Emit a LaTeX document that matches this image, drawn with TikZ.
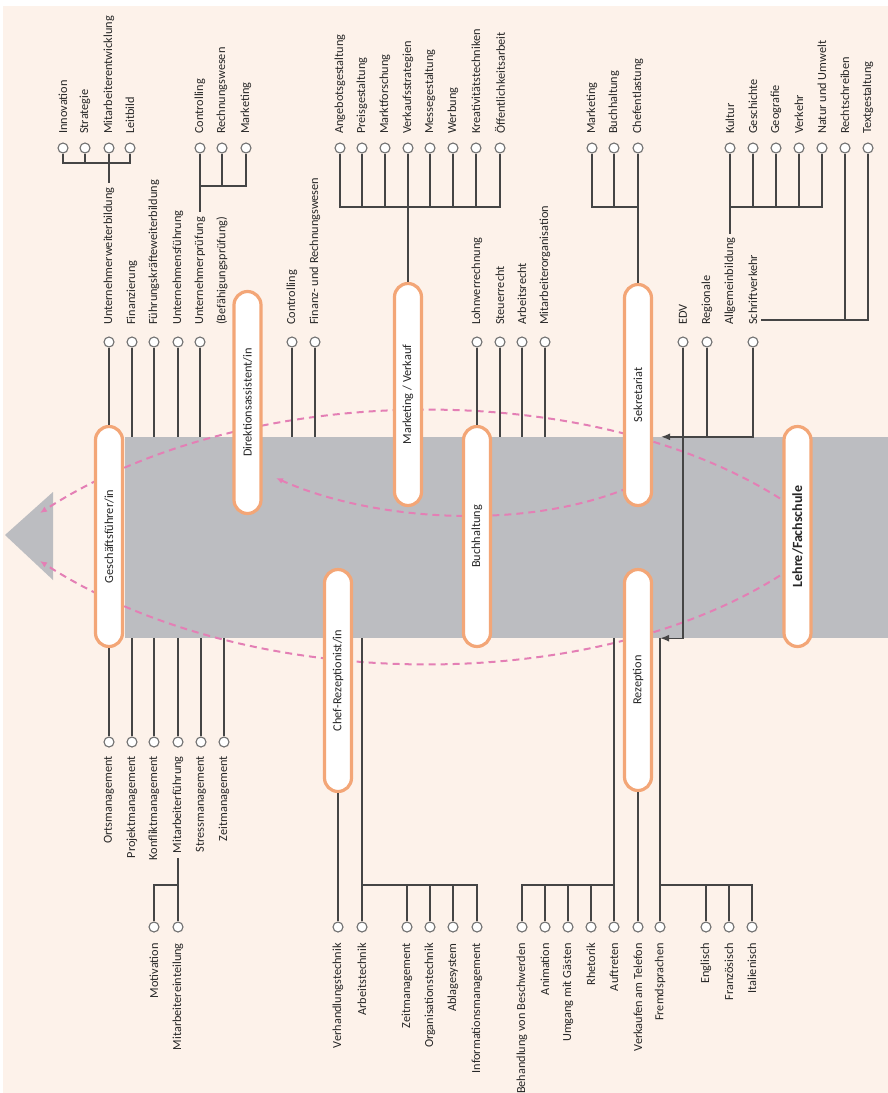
\documentclass[tikz,border=0pt]{standalone}
\usepackage{fontspec}
\setsansfont{Carlito}
\usepackage{xcolor}
\usetikzlibrary{positioning,arrows.meta,backgrounds,calc}

\definecolor{cream}{HTML}{FDF2EA}
\definecolor{bandgray}{HTML}{BCBDC1}
\definecolor{pillorange}{HTML}{F3A677}
\definecolor{dashpink}{HTML}{E47FB5}
\definecolor{stemgray}{HTML}{454545}
\definecolor{dotgray}{HTML}{707070}
\definecolor{txt}{HTML}{262626}

\newcommand{\lblfont}{\sffamily\fontsize{12.3}{14}\selectfont}

\begin{document}
\begin{tikzpicture}[x=1pt, y=-1pt,
  pill/.style={rectangle, rounded corners=13.5pt, draw=pillorange, line width=3.2pt,
               fill=white, rotate=90, minimum height=27pt, inner sep=0pt,
               font=\lblfont, text=txt},
  band/.style={rectangle, fill=bandgray, inner sep=0pt,
               minimum width=763pt, minimum height=201pt},
  up/.style={rotate=90, anchor=west, inner sep=0pt, font=\lblfont, text=txt},
  dn/.style={rotate=90, anchor=east, inner sep=0pt, font=\lblfont, text=txt},
  dot/.style={circle, draw=dotgray, fill=white, line width=1.1pt,
              inner sep=0pt, minimum size=10pt},
  ln/.style={stemgray, line width=1.4pt},
  arr/.style={ln, -{Latex[length=9pt,width=7pt]}},
  hint/.style={dashpink, line width=2pt, dash pattern=on 7pt off 5pt,
               -{Latex[length=7pt,width=6pt]}},
]
\useasboundingbox (0,0) rectangle (888,1093);

% --- background, band, arrow head, flow hints ---
\begin{scope}[on background layer]
  \fill[white] (0,0) rectangle (888,1093);
  \fill[cream] (3,6) rectangle (888,1093);
  \node[band] (band) at (506.5,537.5) {};
  \fill[bandgray] (5,535) -- (53,492) -- (53,580) -- cycle;
  \coordinate (hint-u0) at (790,505);
  \coordinate (hint-u1) at (40,513);
  \coordinate (hint-l0) at (790,569);
  \coordinate (hint-l1) at (40,561);
  \coordinate (hint-i0) at (628,488);
  \coordinate (hint-i1) at (276,478);
  \draw[hint] (hint-u0) .. controls (600,377) and (250,377) .. (hint-u1);
  \draw[hint] (hint-l0) .. controls (600,697) and (250,697) .. (hint-l1);
  \draw[hint] (hint-i0) .. controls (520,532) and (370,520) .. (hint-i1);
\end{scope}

% --- positions ---
\node[pill, minimum width=220pt] (gf)    at (109,536.5) {Geschäftsführer/in};
\node[pill, minimum width=222pt] (da)    at (247.5,402.5) {Direktionsassistent/in};
\node[pill, minimum width=222pt] (mv)    at (408,394.5) {Marketing / Verkauf};
\node[pill, minimum width=220pt] (bh)    at (477,536.5) {Buchhaltung};
\node[pill, minimum width=221pt] (sek)   at (638,395) {Sekretariat};
\node[pill, minimum width=221pt] (rez)   at (638,680) {Rezeption};
\node[pill, minimum width=222pt] (chef)  at (338,680.5) {Chef-Rezeptionist/in};
\node[pill, minimum width=220pt, font=\sffamily\bfseries\fontsize{14}{16}\selectfont]
     (lehre) at (797.5,536.5) {Lehre/Fachschule};

% bar levels
\coordinate (bar1) at (0,163);
\coordinate (bar2) at (0,186);
\coordinate (bar3) at (0,207);
\coordinate (sv)   at (761,320);
\coordinate (bar5) at (0,885);

% --- upper row (circles at 148) ---
\node[dot] (d-inno)   at (63,148) {};  \node[up] (t-inno)   at (63,134)  {Innovation};
\node[dot] (d-strat)  at (85,148) {};  \node[up] (t-strat)  at (85,134)  {Strategie};
\node[dot] (d-maent)  at (109,148) {}; \node[up] (t-maent)  at (109,134) {Mitarbeiterentwicklung};
\node[dot] (d-leitb)  at (130,148) {}; \node[up] (t-leitb)  at (130,134) {Leitbild};
\node[dot] (d-contr1) at (200,148) {}; \node[up] (t-contr1) at (200,134) {Controlling};
\node[dot] (d-rechn)  at (222,148) {}; \node[up] (t-rechn)  at (222,134) {Rechnungswesen};
\node[dot] (d-mark1)  at (246,148) {}; \node[up] (t-mark1)  at (246,134) {Marketing};
\node[dot] (d-angeb)  at (340,148) {}; \node[up] (t-angeb)  at (340,134) {Angebotsgestaltung};
\node[dot] (d-preis)  at (362,148) {}; \node[up] (t-preis)  at (362,134) {Preisgestaltung};
\node[dot] (d-marktf) at (385,148) {}; \node[up] (t-marktf) at (385,134) {Marktforschung};
\node[dot] (d-verks)  at (408,148) {}; \node[up] (t-verks)  at (408,134) {Verkaufsstrategien};
\node[dot] (d-messe)  at (430,148) {}; \node[up] (t-messe)  at (430,134) {Messegestaltung};
\node[dot] (d-werb)   at (453,148) {}; \node[up] (t-werb)   at (453,134) {Werbung};
\node[dot] (d-kreat)  at (476,148) {}; \node[up] (t-kreat)  at (476,134) {Kreativitätstechniken};
\node[dot] (d-oeff)   at (500,148) {}; \node[up] (t-oeff)   at (500,134) {Öffentlichkeitsarbeit};
\node[dot] (d-mark2)  at (592,148) {}; \node[up] (t-mark2)  at (592,134) {Marketing};
\node[dot] (d-buch2)  at (614,148) {}; \node[up] (t-buch2)  at (614,134) {Buchhaltung};
\node[dot] (d-chefe)  at (638,148) {}; \node[up] (t-chefe)  at (638,134) {Chefentlastung};
\node[dot] (d-kult)   at (730,148) {}; \node[up] (t-kult)   at (730,134) {Kultur};
\node[dot] (d-gesch)  at (753,148) {}; \node[up] (t-gesch)  at (753,134) {Geschichte};
\node[dot] (d-geogr)  at (776,148) {}; \node[up] (t-geogr)  at (776,134) {Geografie};
\node[dot] (d-verk)   at (799,148) {}; \node[up] (t-verk)   at (799,134) {Verkehr};
\node[dot] (d-natur)  at (822,148) {}; \node[up] (t-natur)  at (822,134) {Natur und Umwelt};
\node[dot] (d-rechts) at (845,148) {}; \node[up] (t-rechts) at (845,134) {Rechtschreiben};
\node[dot] (d-textg)  at (868,148) {}; \node[up] (t-textg)  at (868,134) {Textgestaltung};

% --- second upper row (circles at 342) ---
\node[dot] (d-uwb)    at (109,342) {}; \node[up] (t-uwb)    at (109,325) {Unternehmerweiterbildung};
\node[dot] (d-finz)   at (132,342) {}; \node[up] (t-finz)   at (132,325) {Finanzierung};
\node[dot] (d-fkwb)   at (154,342) {}; \node[up] (t-fkwb)   at (154,325) {Führungskräfteweiterbildung};
\node[dot] (d-ufue)   at (178,342) {}; \node[up] (t-ufue)   at (178,325) {Unternehmensführung};
\node[dot] (d-upr)    at (200,342) {}; \node[up] (t-upr)    at (200,325) {Unternehmerprüfung};
                                       \node[up] (t-bef)    at (222,325) {(Befähigungsprüfung)};
\node[dot] (d-contr2) at (292,342) {}; \node[up] (t-contr2) at (292,325) {Controlling};
\node[dot] (d-frw)    at (315,342) {}; \node[up] (t-frw)    at (315,325) {Finanz- und Rechnungswesen};
\node[dot] (d-lohn)   at (477,342) {}; \node[up] (t-lohn)   at (477,325) {Lohnverrechnung};
\node[dot] (d-steu)   at (500,342) {}; \node[up] (t-steu)   at (500,325) {Steuerrecht};
\node[dot] (d-arbr)   at (522,342) {}; \node[up] (t-arbr)   at (522,325) {Arbeitsrecht};
\node[dot] (d-mao)    at (545,342) {}; \node[up] (t-mao)    at (545,325) {Mitarbeiterorganisation};
\node[dot] (d-edv)    at (683,342) {}; \node[up] (t-edv)    at (683,325) {EDV};
\node[dot] (d-reg)    at (707,342) {}; \node[up] (t-reg)    at (707,325) {Regionale};
                                       \node[up] (t-allg)   at (730,325) {Allgemeinbildung};
\node[dot] (d-schr)   at (753,342) {}; \node[up] (t-schr)   at (753,325) {Schriftverkehr};

% --- first lower row (circles at 742) ---
\node[dot] (d-orts)   at (109,742) {}; \node[dn] (t-orts)   at (109,756) {Ortsmanagement};
\node[dot] (d-proj)   at (132,742) {}; \node[dn] (t-proj)   at (132,756) {Projektmanagement};
\node[dot] (d-konf)   at (154,742) {}; \node[dn] (t-konf)   at (154,756) {Konfliktmanagement};
\node[dot] (d-mafue)  at (178,742) {}; \node[dn] (t-mafue)  at (178,756) {Mitarbeiterführung};
\node[dot] (d-stress) at (201,742) {}; \node[dn] (t-stress) at (201,756) {Stressmanagement};
\node[dot] (d-zeit1)  at (224,742) {}; \node[dn] (t-zeit1)  at (224,756) {Zeitmanagement};

% --- second lower row (circles at 927) ---
\node[dot] (d-motiv)  at (154,927) {}; \node[dn] (t-motiv)  at (154,943) {Motivation};
\node[dot] (d-maein)  at (178,927) {}; \node[dn] (t-maein)  at (178,943) {Mitarbeitereinteilung};
\node[dot] (d-verh)   at (338,927) {}; \node[dn] (t-verh)   at (338,943) {Verhandlungstechnik};
\node[dot] (d-arbt)   at (362,927) {}; \node[dn] (t-arbt)   at (362,943) {Arbeitstechnik};
\node[dot] (d-zeit2)  at (407,927) {}; \node[dn] (t-zeit2)  at (407,943) {Zeitmanagement};
\node[dot] (d-orgt)   at (430,927) {}; \node[dn] (t-orgt)   at (430,943) {Organisationstechnik};
\node[dot] (d-ablg)   at (453,927) {}; \node[dn] (t-ablg)   at (453,943) {Ablagesystem};
\node[dot] (d-infm)   at (477,927) {}; \node[dn] (t-infm)   at (477,943) {Informationsmanagement};
\node[dot] (d-beh)    at (522,927) {}; \node[dn] (t-beh)    at (522,943) {Behandlung von Beschwerden};
\node[dot] (d-anim)   at (545,927) {}; \node[dn] (t-anim)   at (545,943) {Animation};
\node[dot] (d-umg)    at (568,927) {}; \node[dn] (t-umg)    at (568,943) {Umgang mit Gästen};
\node[dot] (d-rhet)   at (591,927) {}; \node[dn] (t-rhet)   at (591,943) {Rhetorik};
\node[dot] (d-auft)   at (614,927) {}; \node[dn] (t-auft)   at (614,943) {Auftreten};
\node[dot] (d-vtel)   at (638,927) {}; \node[dn] (t-vtel)   at (638,943) {Verkaufen am Telefon};
\node[dot] (d-fremd)  at (660,927) {}; \node[dn] (t-fremd)  at (660,943) {Fremdsprachen};
\node[dot] (d-engl)   at (706,927) {}; \node[dn] (t-engl)   at (706,943) {Englisch};
\node[dot] (d-franz)  at (729,927) {}; \node[dn] (t-franz)  at (729,943) {Französisch};
\node[dot] (d-ital)   at (752,927) {}; \node[dn] (t-ital)   at (752,943) {Italienisch};

% --- upper connectors ---
\draw[ln] (d-inno) -- (d-inno |- bar1) -| (d-leitb);
\draw[ln] (d-strat) -- (d-strat |- bar1);
\draw[ln] (d-maent) -- ($(t-uwb.east)+(0,-4)$);
\draw[ln] (d-contr1) -- ($(t-upr.east)+(0,-5)$);
\draw[ln] (d-contr1 |- bar2) -| (d-mark1);
\draw[ln] (d-rechn) -- (d-rechn |- bar2);
\draw[ln] (d-angeb) -- (d-angeb |- bar3) -| (d-oeff);
\draw[ln] (d-preis) -- (d-preis |- bar3);
\draw[ln] (d-marktf) -- (d-marktf |- bar3);
\draw[ln] (d-messe) -- (d-messe |- bar3);
\draw[ln] (d-werb) -- (d-werb |- bar3);
\draw[ln] (d-kreat) -- (d-kreat |- bar3);
\draw[ln] (d-verks) -- (mv.east);
\draw[ln] (d-mark2) -- (d-mark2 |- bar3) -| (d-chefe);
\draw[ln] (d-buch2) -- (d-buch2 |- bar3);
\draw[ln] (d-chefe) -- (sek.east);
\draw[ln] (d-kult) -- ($(t-allg.east)+(0,-4)$);
\draw[ln] (d-kult |- bar3) -| (d-natur);
\draw[ln] (d-gesch) -- (d-gesch |- bar3);
\draw[ln] (d-geogr) -- (d-geogr |- bar3);
\draw[ln] (d-verk) -- (d-verk |- bar3);
\draw[ln] (d-textg) |- (sv);
\draw[ln] (d-rechts) -- (d-rechts |- sv);

% --- stems to the band (top) ---
\draw[ln] (d-uwb) -- (gf.east);
\draw[ln] (d-finz) -- (d-finz |- band.north);
\draw[ln] (d-fkwb) -- (d-fkwb |- band.north);
\draw[ln] (d-ufue) -- (d-ufue |- band.north);
\draw[ln] (d-upr) -- (d-upr |- band.north);
\draw[ln] (d-contr2) -- (d-contr2 |- band.north);
\draw[ln] (d-frw) -- (d-frw |- band.north);
\draw[ln] (d-lohn) -- (bh.east);
\draw[ln] (d-steu) -- (d-steu |- band.north);
\draw[ln] (d-arbr) -- (d-arbr |- band.north);
\draw[ln] (d-mao) -- (d-mao |- band.north);
\draw[ln] (d-reg) -- (d-reg |- band.north);
\draw[arr, shorten >=8pt] (d-schr) |- (sek.south |- band.north);
\draw[arr, shorten >=7pt] (d-edv) |- (rez.south |- band.south);

% --- stems from the band (bottom) ---
\draw[ln] (d-orts) -- (gf.west);
\draw[ln] (d-proj) -- (d-proj |- band.south);
\draw[ln] (d-konf) -- (d-konf |- band.south);
\draw[ln] (d-mafue) -- (d-mafue |- band.south);
\draw[ln] (d-stress) -- (d-stress |- band.south);
\draw[ln] (d-zeit1) -- (d-zeit1 |- band.south);
\draw[ln] ($(t-mafue.west)+(0,5)$) -- (d-maein);
\draw[ln] (d-motiv) |- (d-maein |- bar5);
\draw[ln] (d-verh) -- (chef.west);
\draw[ln] (d-arbt) -- (d-arbt |- band.south);
\draw[ln] (d-arbt |- bar5) -| (d-infm);
\draw[ln] (d-zeit2) -- (d-zeit2 |- bar5);
\draw[ln] (d-orgt) -- (d-orgt |- bar5);
\draw[ln] (d-ablg) -- (d-ablg |- bar5);
\draw[ln] (d-auft) -- (d-auft |- band.south);
\draw[ln] (d-auft |- bar5) -| (d-beh);
\draw[ln] (d-anim) -- (d-anim |- bar5);
\draw[ln] (d-umg) -- (d-umg |- bar5);
\draw[ln] (d-rhet) -- (d-rhet |- bar5);
\draw[ln] (d-vtel) -- (rez.west);
\draw[ln] (d-fremd) -- (d-fremd |- band.south);
\draw[ln] (d-fremd |- bar5) -| (d-ital);
\draw[ln] (d-engl) -- (d-engl |- bar5);
\draw[ln] (d-franz) -- (d-franz |- bar5);

\end{tikzpicture}
\end{document}
